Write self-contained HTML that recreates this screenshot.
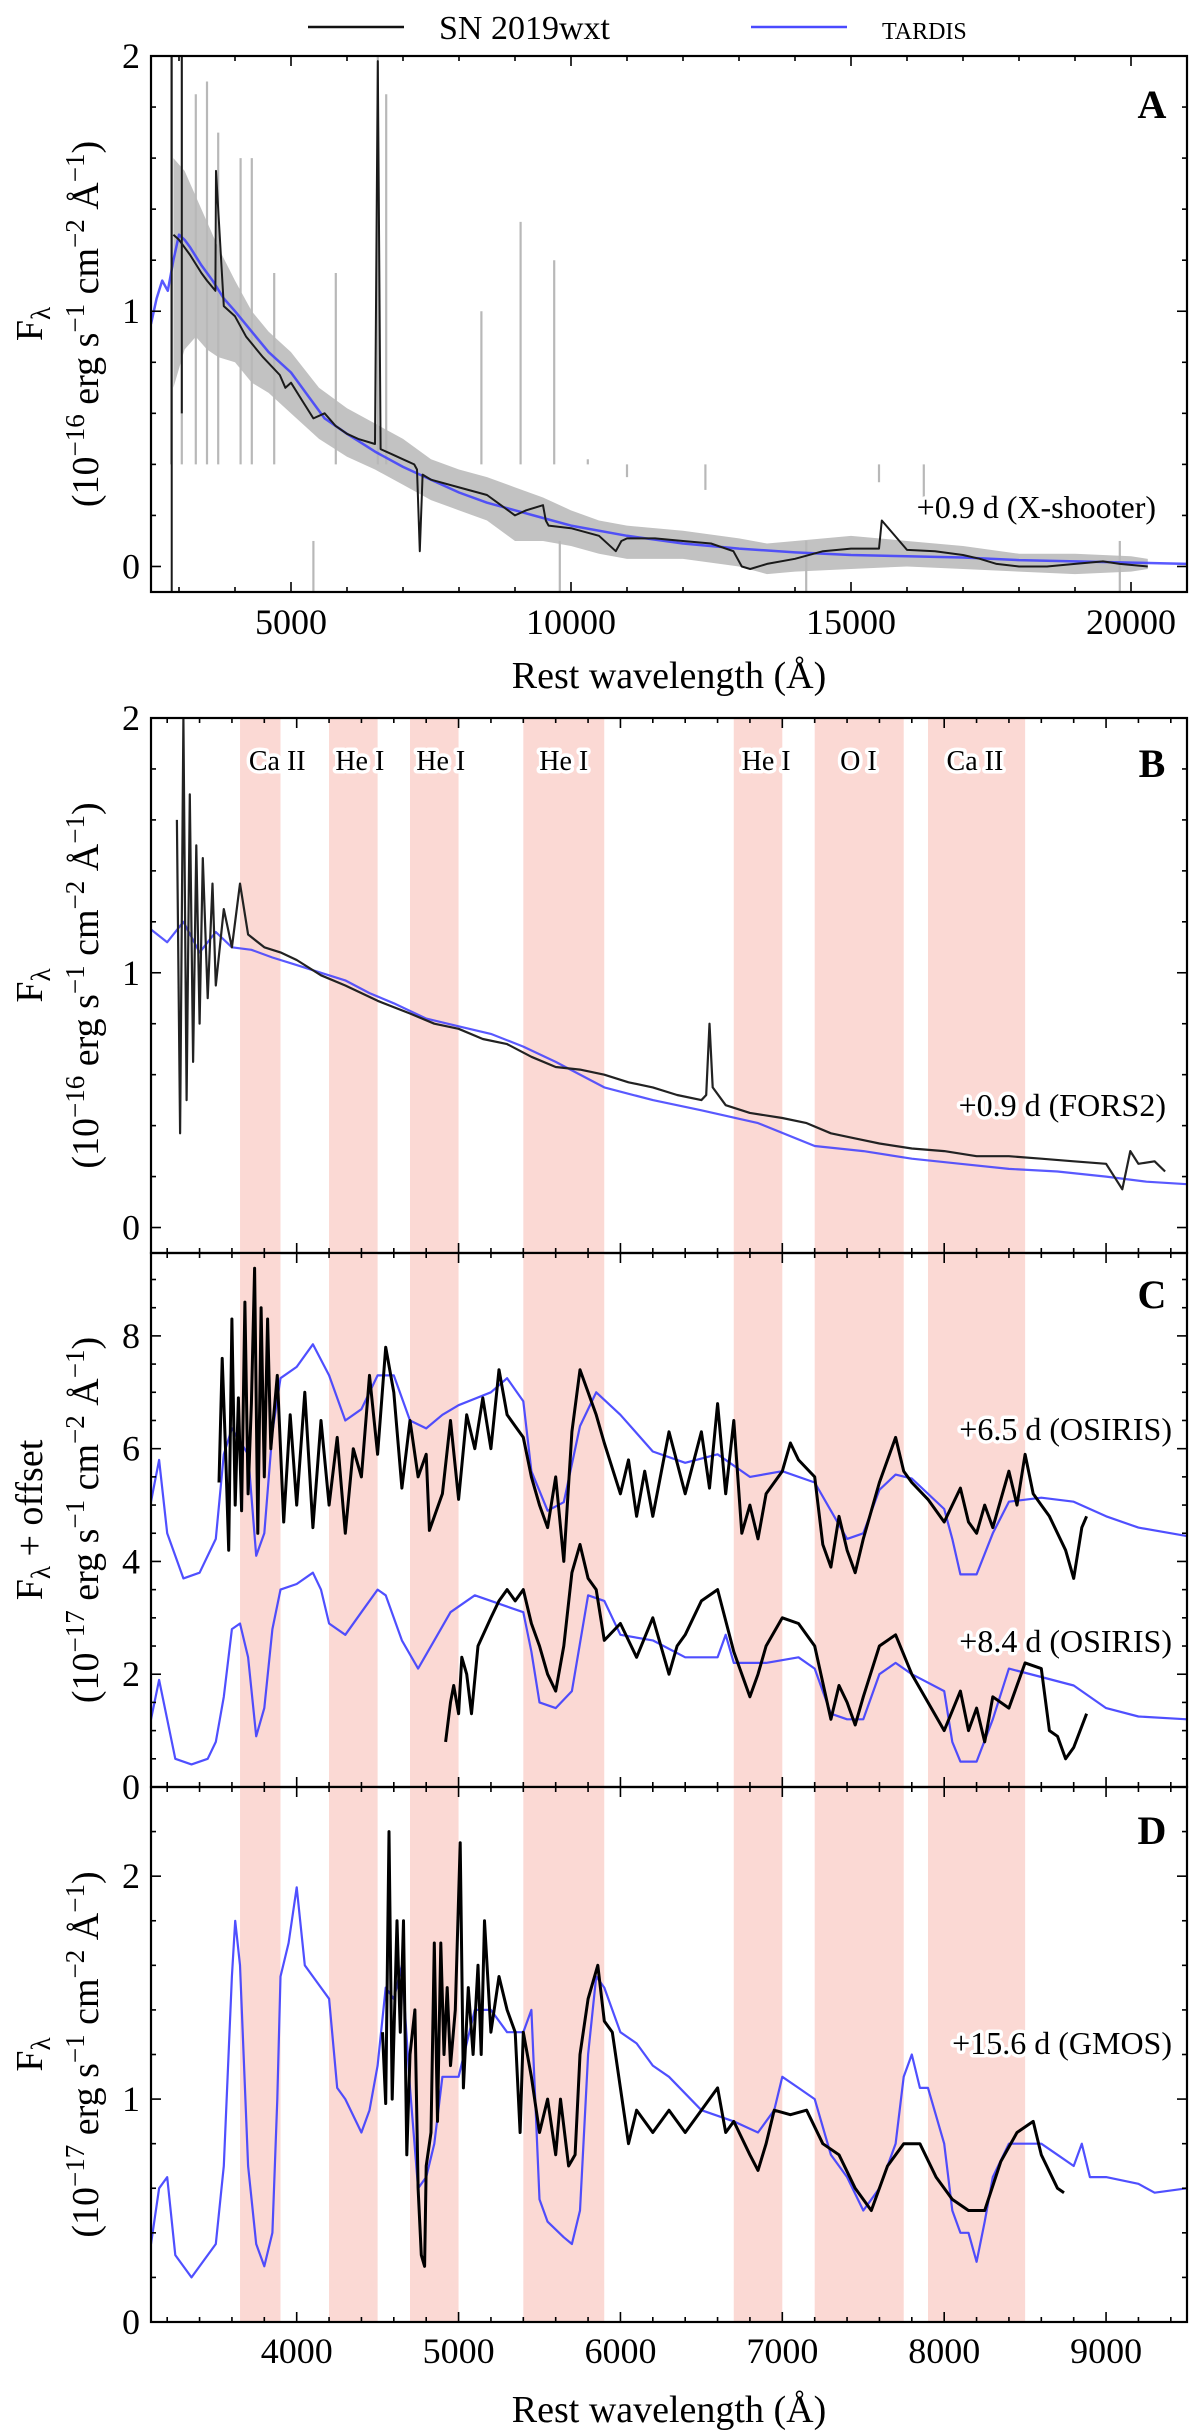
<!DOCTYPE html>
<html><head><meta charset="utf-8">
<style>
html,body{margin:0;padding:0;background:#fff;}
svg{display:block;font-family:"Liberation Serif","DejaVu Serif",serif;}
</style></head>
<body>
<svg id="fig" width="1200" height="2435" viewBox="0 0 1200 2435" xmlns="http://www.w3.org/2000/svg">
<g id="legend">
  <line x1="308" y1="27" x2="404" y2="27" stroke="#111" stroke-width="2.5"/>
  <text x="439" y="39" font-size="34">SN 2019wxt</text>
  <line x1="751" y1="27" x2="847" y2="27" stroke="#4a4aff" stroke-width="2.5"/>
  <text x="882" y="39" font-size="34" style="font-variant:small-caps">tardis</text>
</g>
</svg>
<script>
// ---------------- DATA ----------------
const bandStart = [3650, 4200, 4700, 5400, 6700, 7200, 7900];
const bandEnd   = [3900, 4500, 5000, 5900, 7000, 7750, 8500];
const bandLabels = ["Ca II", "He I", "He I", "He I", "He I", "O I", "Ca II"];
const bandLabelWl = [3880, 4390, 4890, 5650, 6900, 7470, 8190];

// Panel A (X-shooter)
const aBlueWl  = [2500,2600,2700,2800,2900,3000,3100,3200,3400,3600,3800,4000,4300,4600,5000,5300,5600,6000,6500,7000,7500,8000,8500,9000,9500,10000,11000,12000,13000,14000,15000,16000,17000,18000,19000,20000,21000];
const aBlueVal = [0.95,1.05,1.12,1.08,1.2,1.3,1.28,1.25,1.18,1.12,1.05,1.0,0.92,0.84,0.76,0.67,0.58,0.52,0.45,0.39,0.34,0.29,0.25,0.22,0.19,0.16,0.12,0.09,0.07,0.055,0.045,0.04,0.035,0.025,0.02,0.015,0.01];
const aBlackWl  = [2900,3000,3200,3400,3500,3650,3660,3800,4000,4200,4500,4800,4900,5000,5200,5400,5600,5800,6000,6200,6500,6550,6600,6800,7000,7200,7250,7300,7350,7500,8000,8500,9000,9200,9500,9550,9600,10000,10500,10800,10900,11000,11500,12000,12500,12900,13050,13200,13500,14000,14500,15000,15500,15550,16000,16500,17000,17300,17600,18000,18500,19000,19500,19800,20300];
const aBlackVal = [1.3,1.28,1.22,1.15,1.12,1.08,1.55,1.02,0.98,0.9,0.82,0.75,0.7,0.72,0.65,0.58,0.6,0.55,0.52,0.5,0.48,1.98,0.46,0.44,0.42,0.4,0.38,0.06,0.36,0.34,0.31,0.28,0.2,0.22,0.24,0.18,0.16,0.15,0.12,0.06,0.1,0.11,0.11,0.1,0.09,0.06,0.0,-0.01,0.01,0.03,0.06,0.07,0.07,0.18,0.065,0.06,0.045,0.03,0.01,0.0,0.0,0.01,0.02,0.01,0.0];
const aGreyWl   = [2900,3100,3300,3500,3700,4000,4300,4600,5000,5500,6000,6500,7000,7500,8000,8500,9000,9500,10000,10500,11000,12000,13000,13500,14000,15000,16000,17000,18000,19000,20000,20300];
const aGreyHigh = [1.6,1.55,1.45,1.35,1.25,1.12,1.0,0.92,0.84,0.7,0.62,0.56,0.5,0.42,0.38,0.35,0.31,0.27,0.22,0.18,0.16,0.14,0.11,0.09,0.1,0.12,0.1,0.08,0.05,0.05,0.04,0.03];
const aGreyLow  = [0.7,0.85,0.9,0.85,0.82,0.8,0.72,0.68,0.6,0.5,0.43,0.38,0.32,0.26,0.22,0.18,0.1,0.1,0.08,0.05,0.03,0.03,0.0,-0.03,-0.02,-0.01,0.0,-0.01,-0.02,-0.03,-0.02,-0.01];
const aSpikeWl  = [2860,3050,3300,3500,3700,4100,4300,4700,5400,5800,6550,6700,8400,9100,9700,9800,10300,11000,12400,14200,15500,16300,19800];
const aSpikeVal = [2.0,2.0,1.85,1.9,1.7,1.6,1.6,1.15,-0.1,1.15,2.0,1.85,1.0,1.35,1.2,-0.1,0.42,0.35,0.3,-0.1,0.33,0.22,-0.1];

// Panel B (FORS2)
const bBlueWl  = [3100,3200,3300,3400,3500,3600,3720,3850,4000,4150,4300,4450,4600,4800,5000,5200,5400,5600,5900,6200,6500,6850,7200,7500,7800,8100,8400,8700,9000,9250,9500];
const bBlueVal = [1.17,1.12,1.2,1.08,1.16,1.1,1.09,1.06,1.03,1.0,0.97,0.92,0.88,0.82,0.79,0.76,0.71,0.65,0.55,0.5,0.46,0.41,0.32,0.3,0.27,0.25,0.23,0.22,0.2,0.18,0.17];
const bBlackWl  = [3260,3280,3300,3320,3340,3360,3380,3400,3420,3450,3480,3500,3550,3600,3650,3700,3800,3900,4000,4150,4300,4500,4700,4850,5000,5150,5300,5450,5600,5750,5900,6050,6200,6350,6500,6530,6550,6570,6650,6800,7000,7150,7300,7450,7600,7800,8000,8200,8400,8600,8800,9000,9100,9150,9200,9300,9365];
const bBlackVal = [1.6,0.37,2.0,0.5,1.7,0.65,1.5,0.8,1.45,0.9,1.35,0.95,1.25,1.1,1.35,1.15,1.1,1.08,1.05,0.99,0.95,0.89,0.84,0.8,0.78,0.74,0.72,0.67,0.63,0.62,0.6,0.57,0.55,0.52,0.5,0.52,0.8,0.55,0.48,0.45,0.43,0.41,0.37,0.35,0.33,0.31,0.3,0.28,0.28,0.27,0.26,0.25,0.15,0.3,0.25,0.26,0.22];

// Panel C upper (+6.5 d)
const cBlue1Wl  = [3100,3150,3200,3300,3400,3500,3550,3600,3700,3750,3800,3850,3900,4000,4100,4200,4300,4400,4500,4600,4700,4800,4900,5000,5200,5300,5400,5450,5550,5650,5750,5850,6000,6200,6400,6600,6800,7000,7200,7300,7400,7500,7600,7700,7800,8000,8050,8100,8200,8300,8400,8600,8800,9000,9200,9500];
const cBlue1Val = [5.06,5.8,4.5,3.7,3.8,4.4,5.9,6.36,5.9,4.1,4.5,6.3,7.25,7.45,7.85,7.3,6.5,6.7,7.3,7.3,6.5,6.36,6.6,6.77,7.0,7.25,6.84,5.6,4.9,5.05,6.4,7.0,6.6,5.95,5.75,5.9,5.5,5.6,5.4,4.9,4.4,4.5,5.27,5.54,5.47,4.93,4.4,3.77,3.77,4.5,5.06,5.13,5.06,4.8,4.6,4.45];
const cBlack1Wl  = [3520,3540,3560,3580,3600,3620,3640,3660,3680,3700,3720,3740,3760,3780,3800,3820,3840,3880,3920,3960,4000,4050,4100,4150,4200,4250,4300,4350,4400,4450,4500,4550,4600,4650,4700,4750,4800,4820,4900,4950,5000,5050,5100,5150,5200,5250,5300,5350,5400,5450,5500,5550,5600,5650,5700,5750,5800,5850,5900,6000,6050,6100,6150,6200,6300,6400,6500,6550,6600,6650,6700,6750,6800,6850,6900,7000,7050,7100,7200,7250,7300,7350,7400,7450,7500,7600,7700,7750,7800,7900,8000,8100,8150,8200,8250,8300,8400,8450,8500,8550,8600,8650,8750,8800,8850,8880];
const cBlack1Val = [5.4,7.6,6.0,4.2,8.3,5.0,6.9,4.9,8.6,5.2,6.8,9.2,4.5,8.5,5.5,8.3,6.0,7.3,4.7,6.6,5.0,7.0,4.6,6.5,5.0,6.2,4.5,6.0,5.5,7.3,5.9,7.8,7.0,5.3,6.5,5.5,5.9,4.55,5.2,6.5,5.1,6.6,6.0,6.9,6.0,7.4,6.6,6.4,6.2,5.5,5.0,4.6,5.5,4.0,6.3,7.4,7.0,6.6,6.1,5.2,5.8,4.8,5.6,4.8,6.3,5.2,6.3,5.3,6.8,5.2,6.5,4.5,5.0,4.4,5.2,5.6,6.1,5.8,5.5,4.3,3.9,4.8,4.2,3.8,4.4,5.4,6.2,5.6,5.4,5.1,4.7,5.3,4.7,4.5,5.0,4.6,5.6,5.0,5.9,5.2,5.0,4.8,4.2,3.7,4.6,4.8];
// Panel C lower (+8.4 d)
const cBlue2Wl  = [3100,3150,3200,3250,3350,3450,3500,3550,3600,3650,3700,3750,3800,3850,3900,4000,4100,4150,4200,4300,4400,4500,4550,4650,4750,4850,4950,5100,5300,5400,5450,5500,5600,5700,5800,5900,6000,6200,6400,6600,6650,6700,6900,7100,7200,7300,7400,7500,7600,7700,7800,8000,8050,8100,8200,8300,8400,8600,8800,9000,9200,9500];
const cBlue2Val = [1.2,1.9,1.2,0.5,0.4,0.5,0.8,1.6,2.8,2.9,2.3,0.9,1.4,2.8,3.5,3.6,3.8,3.5,2.9,2.7,3.1,3.5,3.4,2.6,2.1,2.6,3.1,3.4,3.2,3.1,2.4,1.5,1.4,1.7,3.4,3.3,2.7,2.6,2.3,2.3,2.7,2.2,2.2,2.3,2.1,1.3,1.2,1.2,2.0,2.2,2.0,1.7,0.8,0.45,0.45,1.2,2.1,1.95,1.8,1.4,1.25,1.2];
const cBlack2Wl  = [4920,4950,4970,5000,5020,5050,5080,5120,5200,5250,5300,5350,5400,5450,5500,5550,5600,5650,5700,5750,5800,5850,5900,6000,6100,6200,6300,6350,6400,6450,6500,6600,6700,6800,6850,6900,7000,7100,7200,7300,7350,7400,7450,7500,7600,7700,7800,7900,8000,8100,8150,8200,8250,8300,8400,8500,8600,8650,8700,8750,8800,8880];
const cBlack2Val = [0.8,1.5,1.8,1.3,2.3,2.0,1.3,2.5,3.0,3.3,3.5,3.3,3.5,2.9,2.5,2.0,1.7,2.5,3.8,4.3,3.7,3.5,2.6,2.9,2.3,3.0,2.0,2.5,2.7,3.0,3.3,3.5,2.4,1.6,2.0,2.5,3.0,2.9,2.5,1.2,1.8,1.5,1.1,1.6,2.5,2.7,2.0,1.5,1.0,1.7,1.0,1.4,0.8,1.6,1.4,2.2,2.1,1.0,0.9,0.5,0.7,1.3];

// Panel D (+15.6 d)
const dBlueWl  = [3100,3150,3200,3250,3350,3450,3500,3550,3600,3620,3650,3700,3750,3800,3850,3880,3900,3950,4000,4050,4100,4200,4250,4300,4400,4450,4500,4550,4600,4650,4700,4750,4800,4850,4900,5000,5100,5200,5300,5400,5450,5500,5550,5650,5700,5750,5800,5850,5900,6000,6100,6200,6300,6500,6700,6850,6950,7000,7100,7200,7300,7400,7500,7600,7700,7750,7800,7850,7900,8000,8050,8100,8150,8200,8250,8300,8400,8500,8600,8700,8800,8850,8900,9000,9200,9300,9500];
const dBlueVal = [0.35,0.6,0.65,0.3,0.2,0.3,0.35,0.7,1.55,1.8,1.6,0.7,0.35,0.25,0.4,1.0,1.55,1.7,1.95,1.6,1.55,1.45,1.05,1.0,0.85,0.95,1.15,1.5,1.45,1.6,1.05,0.6,0.65,0.8,1.1,1.1,1.4,1.4,1.3,1.3,1.4,0.55,0.45,0.38,0.35,0.5,1.2,1.55,1.5,1.3,1.25,1.15,1.1,0.95,0.9,0.85,0.95,1.1,1.05,1.0,0.75,0.65,0.5,0.6,0.8,1.1,1.2,1.05,1.05,0.8,0.5,0.4,0.4,0.27,0.45,0.65,0.8,0.8,0.8,0.75,0.7,0.8,0.65,0.65,0.62,0.58,0.6];
const dBlackWl  = [4530,4550,4570,4590,4620,4640,4660,4680,4700,4730,4750,4770,4790,4800,4830,4850,4870,4890,4910,4930,4950,4980,5010,5030,5060,5090,5120,5140,5160,5200,5250,5300,5350,5380,5400,5450,5500,5550,5600,5630,5680,5720,5750,5800,5860,5900,5950,6000,6050,6100,6200,6300,6400,6500,6600,6650,6700,6800,6850,6900,6950,7050,7150,7250,7350,7450,7550,7650,7750,7850,7950,8050,8150,8250,8350,8450,8550,8600,8700,8740];
const dBlackVal = [1.3,0.98,2.2,1.0,1.8,1.3,1.8,0.75,1.2,1.4,0.6,0.3,0.25,0.7,0.85,1.7,0.9,1.7,1.2,1.5,1.15,1.4,2.15,1.05,1.5,1.2,1.6,1.2,1.8,1.3,1.55,1.4,1.3,0.85,1.3,1.1,0.85,1.0,0.75,1.0,0.7,0.75,1.2,1.45,1.6,1.35,1.3,1.05,0.8,0.95,0.85,0.95,0.85,0.95,1.05,0.85,0.9,0.75,0.68,0.8,0.95,0.93,0.95,0.8,0.75,0.6,0.5,0.7,0.8,0.8,0.65,0.55,0.5,0.5,0.72,0.85,0.9,0.75,0.6,0.58];

// ---------------- DRAW ----------------
const NS = "http://www.w3.org/2000/svg";
const svg = document.getElementById('fig');
const L = 151, R = 1187;
function mk(tag, attrs, parent){ const e=document.createElementNS(NS,tag); for(const k in attrs) e.setAttribute(k,attrs[k]); (parent||svg).appendChild(e); return e; }
function axis(x0,x1,y0,y1,top,bot){ return { x: v => L + (v-x0)/(x1-x0)*(R-L), y: v => bot - (v-y0)/(y1-y0)*(bot-top) }; }
function pathFrom(ax, wl, val){ let d=''; for(let i=0;i<wl.length;i++){ d += (i?'L':'M') + ax.x(wl[i]).toFixed(1)+','+ax.y(val[i]).toFixed(1); } return d; }
function series(g, ax, wl, val, color, w, name, opacity){
  const p = mk('path',{d:pathFrom(ax,wl,val),fill:'none',stroke:color,'stroke-width':w,'stroke-linejoin':'round',opacity:opacity||1},g);
  
  
  return p;
}
function bands(g, ax, top, bot){
  for(let i=0;i<bandStart.length;i++){
    const r = mk('rect',{x:ax.x(bandStart[i]),y:top,width:ax.x(bandEnd[i])-ax.x(bandStart[i]),height:bot-top,fill:'#fbd9d4'},g);
    
    
  }
}
function frame(g, ax, top, bot, xMaj, xMin, xr, yMaj, yMin, yr){
  const t = mk('g',{},g);
  
  
  const tick=(x1,y1,x2,y2)=>mk('line',{x1,y1,x2,y2,stroke:'#000','stroke-width':1.6},t);
  for(let v=Math.ceil(xr[0]/xMin)*xMin; v<=xr[1]; v+=xMin){
    const maj = Math.abs(v/xMaj-Math.round(v/xMaj))<1e-6; const len = maj?10:5; const x=ax.x(v);
    tick(x,bot,x,bot-len); tick(x,top,x,top+len);
  }
  for(let v=Math.ceil(yr[0]/yMin-1e-9)*yMin; v<=yr[1]+1e-9; v+=yMin){
    const maj = Math.abs(v/yMaj-Math.round(v/yMaj))<1e-6; const len = maj?10:5; const y=ax.y(v);
    tick(L,y,L+len,y); tick(R,y,R-len,y);
  }
  const f = mk('rect',{x:L,y:top,width:R-L,height:bot-top,fill:'none',stroke:'#000','stroke-width':2.2},g);
  
  
}
function yLabels(g, ax, vals){
  for(const v of vals){ const t=mk('text',{x:140,y:ax.y(v)+12,'text-anchor':'end','font-size':36},g); t.textContent=v;
    
     }
}
function xLabels(g, ax, vals, y){
  for(const v of vals){ const t=mk('text',{x:ax.x(v),y:y,'text-anchor':'middle','font-size':36},g); t.textContent=v;
    
     }
}
function yTitle(g, cy, first, exp){
  const t1 = mk('text',{transform:`translate(42,${cy}) rotate(-90)`,'text-anchor':'middle','font-size':38},g);
  t1.innerHTML = first;
  
  
  const t2 = mk('text',{transform:`translate(98,${cy}) rotate(-90)`,'text-anchor':'middle','font-size':38},g);
  t2.innerHTML = `(10<tspan dy="-14" font-size="27">−${exp}</tspan><tspan dy="14"> erg s</tspan><tspan dy="-14" font-size="27">−1</tspan><tspan dy="14"> cm</tspan><tspan dy="-14" font-size="27">−2</tspan><tspan dy="14"> Å</tspan><tspan dy="-14" font-size="27">−1</tspan><tspan dy="14">)</tspan>`;
  
  
}
function note(g, txt, x, y, name, anchor){
  const t = mk('text',{x:x,y:y,'text-anchor':anchor||'end','font-size':32,stroke:'#fff','stroke-width':7,'paint-order':'stroke','stroke-linejoin':'round'},g);
  t.textContent = txt;
  
  
  return t;
}
function letter(g, s, y){
  const t = mk('text',{x:1152,y:y,'text-anchor':'middle','font-size':40,'font-weight':'bold'},g);
  t.textContent = s;
  
  
}
function clip(id, top, bot){ const c=mk('clipPath',{id:id}); mk('rect',{x:L,y:top,width:R-L,height:bot-top},c); }

// Panel A
(function(){
  const top=56, bot=592; const ax = axis(2500,21000,-0.1,2,top,bot);
  const g = mk('g',{});  
  clip('ca',top,bot);
  const d = mk('g',{'clip-path':'url(#ca)'},g);
  let env=''; for(let i=0;i<aGreyWl.length;i++) env+=(i?'L':'M')+ax.x(aGreyWl[i])+','+ax.y(aGreyHigh[i]);
  for(let i=aGreyWl.length-1;i>=0;i--) env+='L'+ax.x(aGreyWl[i])+','+ax.y(aGreyLow[i]);
  const ge = mk('path',{d:env+'Z',fill:'#c2c2c2'},d);
   
  for(let i=0;i<aSpikeWl.length;i++){
    const base = aSpikeVal[i]<0?0.1:0.4;
    const s = mk('line',{x1:ax.x(aSpikeWl[i]),x2:ax.x(aSpikeWl[i]),y1:ax.y(base),y2:ax.y(aSpikeVal[i]),stroke:'#b8b8b8','stroke-width':2.2},d);
     
  }
  series(d, ax, aBlueWl, aBlueVal, '#3c3cff', 2.5, 'tardis-model-a', 0.85);
  series(d, ax, aBlackWl, aBlackVal, '#1a1a1a', 2, 'sn-spectrum-a');
  const sp = mk('line',{x1:ax.x(2870),x2:ax.x(2870),y1:ax.y(-0.1),y2:ax.y(2),stroke:'#1a1a1a','stroke-width':2},d);
   
  const sp2 = mk('line',{x1:ax.x(3050),x2:ax.x(3050),y1:ax.y(0.6),y2:ax.y(2),stroke:'#1a1a1a','stroke-width':2},d);
   
  frame(g, ax, top, bot, 5000, 1000, [2500,21000], 1, 0.2, [-0.1,2]);
  yLabels(g, ax, [0,1,2]);
  xLabels(g, ax, [5000,10000,15000,20000], 634);
  yTitle(g, (top+bot)/2, 'F<tspan dy="8" font-size="27">λ</tspan>', 16);
  note(g, '+0.9 d (X-shooter)', 1156, 518, 'epoch-label-a');
  letter(g, 'A', 118);
  const xl = mk('text',{x:669,y:688,'text-anchor':'middle','font-size':38},g); xl.textContent='Rest wavelength (Å)';
   
})();

// Panel B
(function(){
  const top=718, bot=1253; const ax = axis(3100,9500,-0.1,2,top,bot);
  const g = mk('g',{});  
  bands(g, ax, top, bot);
  clip('cb',top,bot);
  const d = mk('g',{'clip-path':'url(#cb)'},g);
  series(d, ax, bBlueWl, bBlueVal, '#3c3cff', 2.2, 'tardis-model-b', 0.85);
  series(d, ax, bBlackWl, bBlackVal, '#222', 2.2, 'sn-spectrum-b');
  for(let i=0;i<bandLabels.length;i++){
    const t = note(g, bandLabels[i], ax.x(bandLabelWl[i]), 770, 'band-label', 'middle');
    t.setAttribute('font-size', 28);
  }
  frame(g, ax, top, bot, 1000, 200, [3100,9500], 1, 0.2, [-0.1,2]);
  yLabels(g, ax, [0,1,2]);
  yTitle(g, (top+bot)/2, 'F<tspan dy="8" font-size="27">λ</tspan>', 16);
  note(g, '+0.9 d (FORS2)', 1166, 1116, 'epoch-label-b');
  letter(g, 'B', 777);
})();

// Panel C
(function(){
  const top=1253, bot=1787; const ax = axis(3100,9500,0,9.47,top,bot);
  const g = mk('g',{});  
  bands(g, ax, top, bot);
  clip('cc',top,bot);
  const d = mk('g',{'clip-path':'url(#cc)'},g);
  series(d, ax, cBlue1Wl, cBlue1Val, '#3c3cff', 2.2, 'tardis-model-c-upper', 0.9);
  series(d, ax, cBlue2Wl, cBlue2Val, '#3c3cff', 2.2, 'tardis-model-c-lower', 0.9);
  series(d, ax, cBlack1Wl, cBlack1Val, '#000', 3, 'sn-spectrum-c-upper');
  series(d, ax, cBlack2Wl, cBlack2Val, '#000', 3, 'sn-spectrum-c-lower');
  frame(g, ax, top, bot, 1000, 200, [3100,9500], 2, 0.5, [0,9.47]);
  yLabels(g, ax, [0,2,4,6,8]);
  yTitle(g, (top+bot)/2, 'F<tspan dy="8" font-size="27">λ</tspan><tspan dy="-8"> + offset</tspan>', 17);
  note(g, '+6.5 d (OSIRIS)', 1172, 1440, 'epoch-label-c-upper');
  note(g, '+8.4 d (OSIRIS)', 1172, 1652, 'epoch-label-c-lower');
  letter(g, 'C', 1308);
})();

// Panel D
(function(){
  const top=1787, bot=2322; const ax = axis(3100,9500,0,2.4,top,bot);
  const g = mk('g',{});  
  bands(g, ax, top, bot);
  clip('cd',top,bot);
  const d = mk('g',{'clip-path':'url(#cd)'},g);
  series(d, ax, dBlueWl, dBlueVal, '#3c3cff', 2.2, 'tardis-model-d', 0.9);
  series(d, ax, dBlackWl, dBlackVal, '#000', 3, 'sn-spectrum-d');
  frame(g, ax, top, bot, 1000, 200, [3100,9500], 1, 0.2, [0,2.4]);
  yLabels(g, ax, [0,1,2]);
  xLabels(g, ax, [4000,5000,6000,7000,8000,9000], 2363);
  yTitle(g, (top+bot)/2, 'F<tspan dy="8" font-size="27">λ</tspan>', 17);
  note(g, '+15.6 d (GMOS)', 1172, 2054, 'epoch-label-d');
  letter(g, 'D', 1844);
  const xl = mk('text',{x:669,y:2422,'text-anchor':'middle','font-size':38},g); xl.textContent='Rest wavelength (Å)';
   
})();
</script>
</body></html>
